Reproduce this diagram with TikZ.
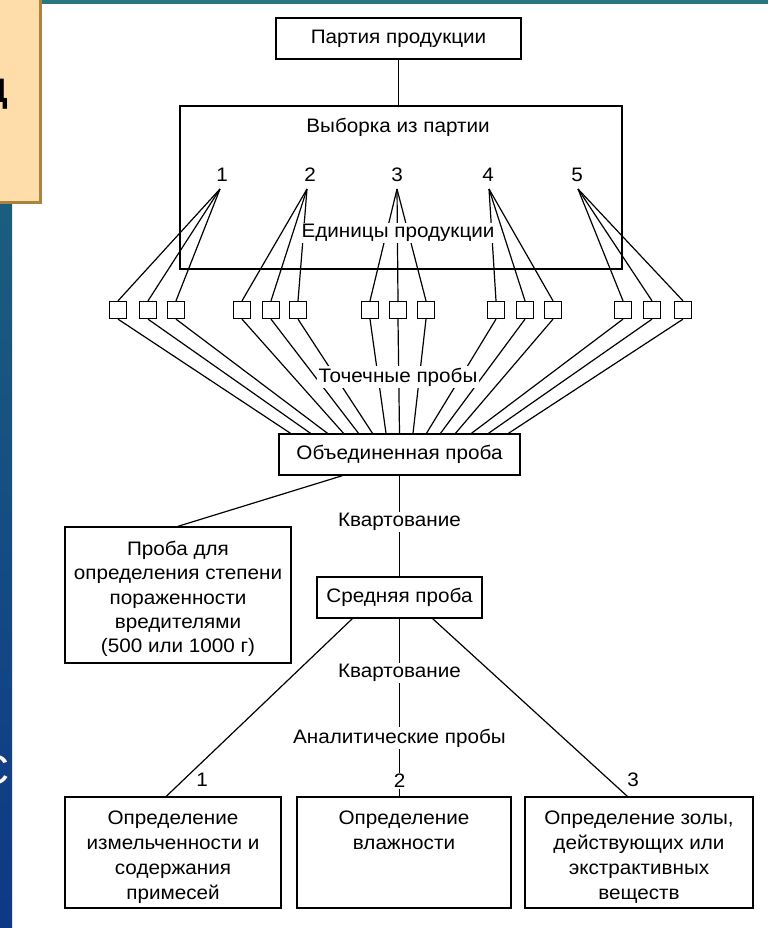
\documentclass[tikz,border=0pt]{standalone}
\usepackage{fontspec}
\setmainfont{Liberation Sans}[FakeStretch=1.06]
\usetikzlibrary{calc}
\newcommand{\fsz}{\fontsize{19.5}{25}\selectfont}
\definecolor{tanfill}{RGB}{255,221,170}
\definecolor{tanedge}{RGB}{170,132,60}
\definecolor{tealband}{RGB}{40,118,128}
\definecolor{stripTop}{RGB}{30,104,124}
\definecolor{stripBot}{RGB}{14,56,134}
\tikzset{
  box/.style={draw, line width=1.4pt, inner sep=0pt, font=\fsz, align=center},
  txt/.style={inner sep=1pt, font=\fsz, align=center},
  lbl/.style={fill=white, inner sep=1.5pt, font=\fsz},
  sq/.style={draw, line width=1.3pt, minimum size=17pt, inner sep=0pt},
  conn/.style={line width=1.2pt}
}
\begin{document}
\begin{tikzpicture}[x=1pt,y=-1pt]
\useasboundingbox (0,0) rectangle (768,928);
\clip (0,0) rectangle (768,928);
\fill[white] (0,0) rectangle (768,928);
% slide background remnants
\fill[tealband] (0,0) rectangle (768,4);
\shade[top color=stripTop, bottom color=stripBot] (0,0) rectangle (12,928);
\node[font=\fontsize{42}{42}\selectfont, text=white, anchor=east, inner sep=0pt] (cletter) at (10,770) {С};
\fill[tanfill, draw=tanedge, line width=3pt] (-10,-10) rectangle (40,202);
\node[font=\bfseries\fontsize{34}{34}\selectfont, anchor=east, inner sep=0pt] (dletter) at (8,94) {Д};

% top part
\node[box, minimum width=245, minimum height=41] (partia) at (398.5,38.5) {Партия продукции};
\node[box, minimum width=442, minimum height=163] (vyb) at (401,187.5) {};
\draw[conn] (partia.south) -- (partia.south |- vyb.north);
\node[txt] (vybt) at (398,127) {Выборка из партии};

\foreach \i/\x/\vx in {1/222/220, 2/310/307, 3/397/397, 4/488/489, 5/577/578}{
  \node[txt] (n\i) at (\x,175) {\i};
  \coordinate (v\i) at (\vx,189);
}

% squares
\foreach \g/\a/\b/\c in {1/118/148/176, 2/242/271/298, 3/370/398/426, 4/496/525/553, 5/623/652/683}{
  \node[sq] (s\g a) at (\a,310) {};
  \node[sq] (s\g b) at (\b,310) {};
  \node[sq] (s\g c) at (\c,310) {};
  \draw[conn] (v\g) -- (s\g a.north);
  \draw[conn] (v\g) -- (s\g b.north);
  \draw[conn] (v\g) -- (s\g c.north);
}

\node[box, minimum width=241, minimum height=41] (ob) at (399.5,454.5) {Объединенная проба};

\foreach \s/\dx [count=\k] in {1a/-109, 1b/-89, 1c/-72, 2a/-56, 2b/-41, 2c/-27, 3a/-13.5, 3b/0, 3c/13.5, 4a/27, 4b/41, 4c/56, 5a/72, 5b/89, 5c/109}{
  \coordinate (e\k) at ($(ob.north)+(\dx,0)$);
  \draw[conn] (s\s.south) -- (e\k);
}

\node[lbl] (edin) at (398,233) {Единицы продукции};
\node[lbl] (toch) at (398,377) {Точечные пробы};

% middle
\node[box, minimum width=226, minimum height=136] (proba) at (178,595) {};
\node[txt, font=\fontsize{19.5}{24.3}\selectfont] (probat) at (178,599)
  {Проба для\\определения степени\\пораженности\\вредителями\\(500 или 1000 г)};
\coordinate (obl) at ($(ob.south west)+(64,0)$);
\draw[conn] (obl) -- (proba.north);

\node[box, minimum width=165, minimum height=41] (sr) at (399.5,597.5) {Средняя проба};
\draw[conn] (ob.south) -- (sr.north);
\node[lbl] (kv1) at (399.5,522) {Квартование};

% bottom
\node[box, minimum width=216, minimum height=111] (b1) at (173,852.5) {};
\node[box, minimum width=214, minimum height=111] (b2) at (404,852.5) {};
\node[box, minimum width=228, minimum height=111] (b3) at (639,852.5) {};
\node[txt, anchor=north, inner sep=0pt] (b1t) at ($(b1.north)+(0,14)$) {Определение\\измельченности и\\содержания\\примесей};
\node[txt, anchor=north, inner sep=0pt] (b2t) at ($(b2.north)+(0,14)$) {Определение\\влажности};
\node[txt, anchor=north, inner sep=0pt] (b3t) at ($(b3.north)+(0,14)$) {Определение золы,\\действующих или\\экстрактивных\\веществ};

\coordinate (srl) at ($(sr.south west)+(36,0)$);
\coordinate (srr) at ($(sr.south east)+(-50,0)$);
\coordinate (b1p) at ($(b1.north west)+(102,0)$);
\coordinate (b3p) at ($(b3.north west)+(103,0)$);
\draw[conn] (srl) -- (b1p);
\draw[conn] (srr) -- (b3p);
\draw[conn] (sr.south) -- (sr.south |- b2.north);
\node[lbl] (kv2) at (399.5,673) {Квартование};
\node[lbl] (anal) at (399.5,738) {Аналитические пробы};
\node[lbl] (l2) at (399.5,781) {2};
\node[txt] (l1) at (202,780) {1};
\node[txt] (l3) at (633,780) {3};
\end{tikzpicture}
\end{document}
